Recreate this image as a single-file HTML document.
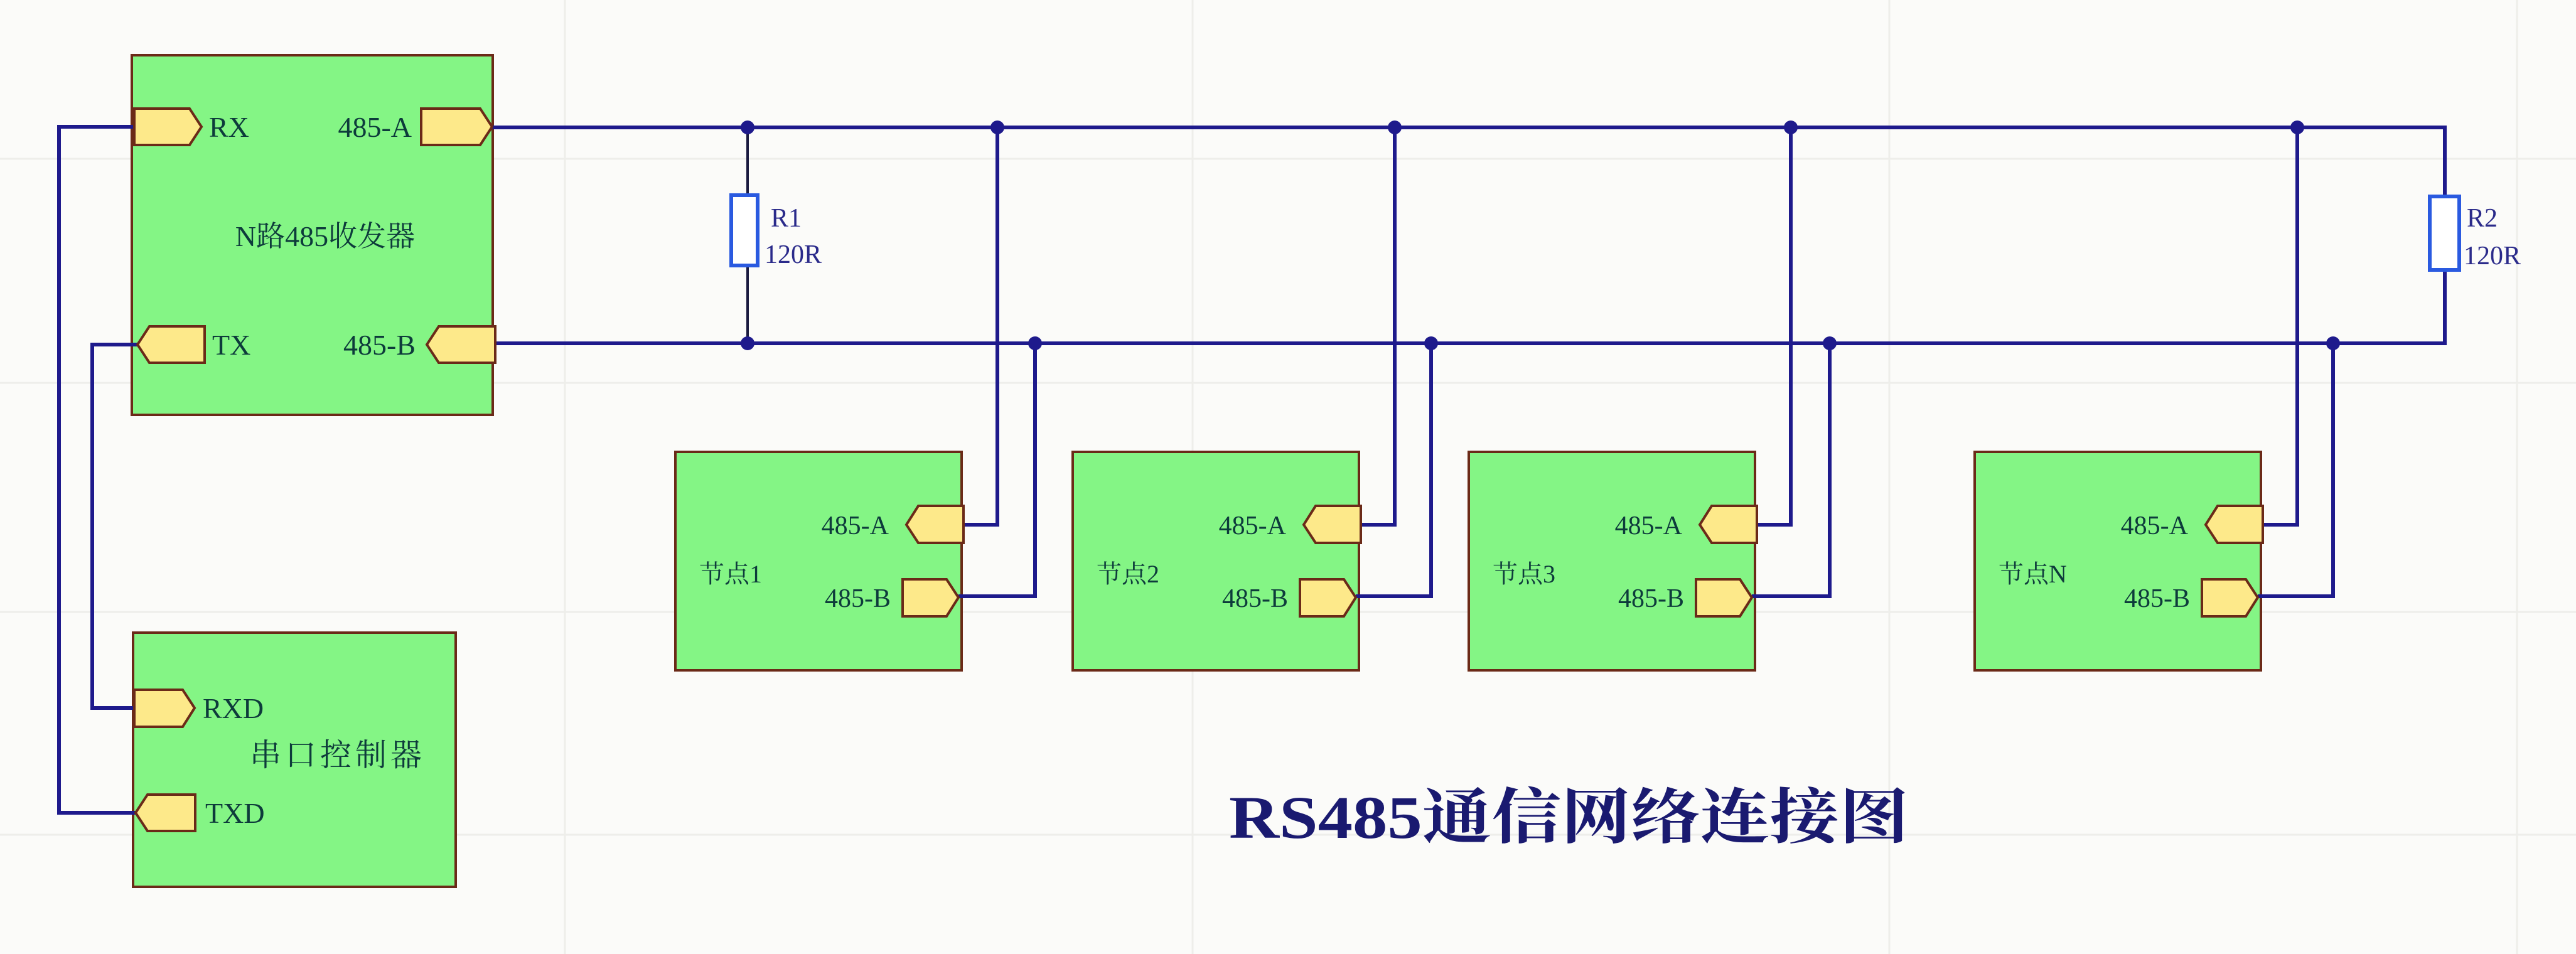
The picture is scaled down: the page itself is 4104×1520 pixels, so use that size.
<!DOCTYPE html>
<html><head><meta charset="utf-8"><style>
html,body{margin:0;padding:0;background:#fbfbf9;}
svg{display:block;}
.t{font-family:"Liberation Serif","Noto Serif CJK SC",serif;fill:#0d3b3b;}
.c{font-family:"Liberation Serif","Noto Serif CJK SC","Noto Sans CJK SC",serif;fill:#0d3b3b;}
</style></head><body>
<svg width="4104" height="1520" viewBox="0 0 4104 1520" xmlns="http://www.w3.org/2000/svg">
<rect width="4104" height="1520" fill="#fbfbf9"/>
<g stroke="#eeeeea" stroke-width="3">
<line x1="0" y1="253" x2="4104" y2="253"/><line x1="0" y1="610" x2="4104" y2="610"/>
<line x1="0" y1="975" x2="4104" y2="975"/><line x1="0" y1="1330" x2="4104" y2="1330"/>
<line x1="900" y1="0" x2="900" y2="1520"/><line x1="1900" y1="0" x2="1900" y2="1520"/>
<line x1="3010" y1="0" x2="3010" y2="1520"/><line x1="4010" y1="0" x2="4010" y2="1520"/>
</g>

<!-- boxes -->
<g fill="#84f585" stroke="#6b2a18" stroke-width="4">
<rect x="210" y="88" width="575" height="573"/>
<rect x="212" y="1008" width="514" height="405"/>
<rect x="1076" y="720" width="456" height="348"/>
<rect x="1709" y="720" width="456" height="348"/>
<rect x="2340" y="720" width="456" height="348"/>
<rect x="3146" y="720" width="456" height="348"/>
</g>

<!-- wires -->
<g fill="none" stroke="#1e1a8c" stroke-width="6">
<line x1="784" y1="203" x2="3898" y2="203"/>
<line x1="789" y1="547" x2="3898" y2="547"/>
<polyline points="3895,203 3895,313"/><polyline points="3895,430 3895,547"/>
<polyline points="214,202 94,202 94,1295 216,1295"/>
<polyline points="219,549 147,549 147,1128 214,1128"/>
<polyline points="1535,836 1589,836 1589,203"/>
<polyline points="1527,950 1649,950 1649,547"/>
<polyline points="2168,836 2222,836 2222,203"/>
<polyline points="2160,950 2280,950 2280,547"/>
<polyline points="2799,836 2853,836 2853,203"/>
<polyline points="2791,950 2915,950 2915,547"/>
<polyline points="3605,836 3660,836 3660,203"/>
<polyline points="3597,950 3717,950 3717,547"/>
</g>
<g stroke="#1a1a40" stroke-width="4">
<line x1="1191" y1="203" x2="1191" y2="311"/><line x1="1191" y1="423" x2="1191" y2="547"/>
</g>
<rect x="1165" y="311" width="42" height="112" fill="#fff" stroke="#2a5ae0" stroke-width="6"/>
<rect x="3871" y="313" width="47" height="117" fill="#fff" stroke="#2a5ae0" stroke-width="6"/>
<g fill="#1e1a8c">
<circle cx="1191" cy="203" r="11"/><circle cx="1589" cy="203" r="11"/><circle cx="2222" cy="203" r="11"/><circle cx="2853" cy="203" r="11"/><circle cx="3660" cy="203" r="11"/>
<circle cx="1191" cy="547" r="11"/><circle cx="1649" cy="547" r="11"/><circle cx="2280" cy="547" r="11"/><circle cx="2915" cy="547" r="11"/><circle cx="3717" cy="547" r="11"/>
</g>

<!-- pins -->
<g fill="#fde98a" stroke="#6b2a18" stroke-width="4">
<polygon points="214,173 302,173 321,202 302,231 214,231"/>
<polygon points="671,173 765,173 784,202 765,231 671,231"/>
<polygon points="326,520 238,520 219,549 238,578 326,578"/>
<polygon points="789,520 699,520 680,549 699,578 789,578"/>
<polygon points="214,1099 291,1099 310,1128 291,1158 214,1158"/>
<polygon points="311,1266 235,1266 216,1295 235,1324 311,1324"/>
<!-- node pins -->
<polygon points="1535,806 1463,806 1444,836 1463,865 1535,865"/>
<polygon points="1438,923 1508,923 1527,952 1508,982 1438,982"/>
<polygon points="2168,806 2096,806 2077,836 2096,865 2168,865"/>
<polygon points="2071,923 2141,923 2160,952 2141,982 2071,982"/>
<polygon points="2799,806 2727,806 2708,836 2727,865 2799,865"/>
<polygon points="2702,923 2772,923 2791,952 2772,982 2702,982"/>
<polygon points="3605,806 3533,806 3514,836 3533,865 3605,865"/>
<polygon points="3508,923 3578,923 3597,952 3578,982 3508,982"/>
</g>

<!-- labels -->
<g class="t" font-size="46">
<text x="333" y="218">RX</text>
<text x="656" y="218" text-anchor="end">485-A</text>
<text x="338" y="565">TX</text>
<text x="662" y="565" text-anchor="end">485-B</text>
<text x="323" y="1144">RXD</text>
<text x="327" y="1311">TXD</text>
</g>
<text class="c" x="518" y="392" font-size="46" text-anchor="middle">N路485收发器</text>
<text class="c" x="538" y="1220" font-size="50" text-anchor="middle" letter-spacing="6">串口控制器</text>
<g class="t" font-size="42">
<text x="1416" y="851" text-anchor="end">485-A</text><text x="1419" y="967" text-anchor="end">485-B</text>
<text x="2049" y="851" text-anchor="end">485-A</text><text x="2052" y="967" text-anchor="end">485-B</text>
<text x="2680" y="851" text-anchor="end">485-A</text><text x="2683" y="967" text-anchor="end">485-B</text>
<text x="3486" y="851" text-anchor="end">485-A</text><text x="3489" y="967" text-anchor="end">485-B</text>
</g>
<g class="c" font-size="40">
<text x="1114" y="928">节点1</text>
<text x="1747" y="928">节点2</text>
<text x="2378" y="928">节点3</text>
<text x="3184" y="928">节点N</text>
</g>
<g font-family="Liberation Serif, serif" font-size="42" fill="#2a2a8a">
<text x="1228" y="361">R1</text><text x="1218" y="419">120R</text>
<text x="3930" y="361">R2</text><text x="3925" y="421">120R</text>
</g>
<text x="1958" y="1335" font-family="Liberation Serif, 'Noto Serif CJK SC', serif" font-weight="bold" font-size="96" fill="#1a1a70" textLength="1083" lengthAdjust="spacingAndGlyphs">RS485通信网络连接图</text>
</svg>
</body></html>
